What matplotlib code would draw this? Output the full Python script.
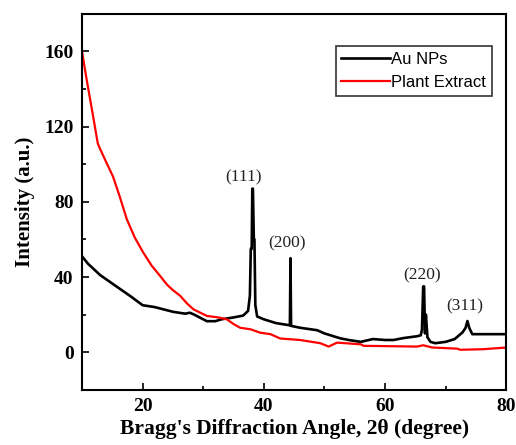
import matplotlib
matplotlib.use("Agg")
import matplotlib.pyplot as plt
from matplotlib.ticker import MultipleLocator

# Au NPs XRD pattern
au_x = [10, 11, 13, 15, 17.9, 20, 22, 25, 27, 27.8, 28.5, 30.6, 32, 33, 35, 36.6,
        37.4, 37.7, 37.85, 38.0, 38.1, 38.2, 38.35, 38.45, 38.6, 38.9, 40, 42, 44.3,
        44.4, 44.5, 46, 48.8, 50, 52.6, 54, 56, 58, 60, 61.4, 63, 65.3, 65.9, 66.1,
        66.3, 66.45, 66.6, 66.75, 67.0, 67.5, 68.3, 70, 71.5, 72.8, 73.3, 73.6, 73.9,
        74.4, 76, 78, 80]
au_y = [51, 47, 41, 36.5, 30, 25, 24, 21.5, 20.5, 21, 20, 16.5, 16.5, 17.5, 18.5, 19.5,
        22, 30, 55, 55, 87, 87, 60, 60, 25, 19, 17.5, 15.5, 14.3,
        50, 14, 13, 11.7, 10, 7.4, 6.5, 5.5, 7, 6.5, 6.5, 7.5, 8.5, 9, 12,
        35, 35, 10, 20, 8, 5.5, 4.8, 5.5, 7, 10.6, 13, 16.6, 13,
        9.6, 9.6, 9.6, 9.6]

# Plant extract XRD pattern
pe_x = [10, 10.5, 11, 11.8, 12.6, 13, 14, 15.1, 16.2, 17.4, 18.7, 20.1, 21.5, 22.9,
        24, 25, 26.2, 27.3, 28.4, 30.6, 32.5, 33.9, 35, 36.1, 37.8, 39.4, 41.1, 42.7,
        46, 49.3, 50.7, 52.1, 56, 56.5, 65.3, 66.3, 67.8, 71.9, 72.4, 76.2, 80]
pe_y = [160, 150, 140.6, 126, 111, 108, 101, 93.5, 83, 70.6, 61, 53, 46, 40.5,
        36, 33, 30, 26, 22.8, 19.3, 18.5, 17.5, 15, 13, 12.2, 10.4, 9.6, 7.3,
        6.5, 4.8, 3, 5.1, 4.2, 3.4, 3, 3.7, 2.5, 1.9, 1.3, 1.6, 2.5]

peak_labels = ["(111)", "(200)", "(220)", "(311)"]
peak_label_x = [36.6, 43.9, 66.1, 73.1]
peak_label_y = [93, 58, 41, 24.5]

serif = "Liberation Serif"
sans = "Liberation Sans"

fig = plt.figure(figsize=(5.16, 4.45), dpi=100)
ax = fig.add_axes([0.159, 0.124, 0.822, 0.845])

ax.plot(au_x, au_y, color="black", lw=1.9, label="Au NPs")
ax.plot(pe_x, pe_y, color="#ff0000", lw=1.6, label="Plant Extract")

ax.set_xlim(10, 80)
ax.set_ylim(-20, 180)
ax.xaxis.set_major_locator(MultipleLocator(20))
ax.xaxis.set_minor_locator(MultipleLocator(10))
ax.yaxis.set_major_locator(MultipleLocator(40))
ax.yaxis.set_minor_locator(MultipleLocator(20))

ax.tick_params(which="major", direction="in", length=5, width=1.2, top=False, right=False)
ax.tick_params(which="minor", direction="in", length=3, width=1.2, top=False, right=False)
ax.tick_params(axis="y", pad=6)
ax.tick_params(axis="x", pad=6)
for lab in ax.get_xticklabels() + ax.get_yticklabels():
    lab.set_fontfamily(serif)
    lab.set_fontweight("bold")
    lab.set_fontsize(14)

for sp in ax.spines.values():
    sp.set_linewidth(1.5)

for t, x, y in zip(peak_labels, peak_label_x, peak_label_y):
    ax.text(x, y, t, ha="center", va="center", fontfamily=serif, fontsize=12.5,
            color="#222222")

ax.set_xlabel("Bragg's Diffraction Angle, 2\u03b8 (degree)", fontfamily=serif,
              fontweight="bold", fontsize=15.5, labelpad=3)
ax.set_ylabel("Intensity (a.u.)", fontfamily=serif, fontweight="bold",
              fontsize=15, labelpad=7)

leg = ax.legend(loc="upper right", bbox_to_anchor=(0.967, 0.915), prop={"family": sans, "size": 12},
                frameon=True, fancybox=False, edgecolor="black", handlelength=2.9,
                handletextpad=0.1, borderpad=0.35, labelspacing=0.5, borderaxespad=0)
leg.get_frame().set_linewidth(1.2)

fig.savefig("out.png", dpi=100)
